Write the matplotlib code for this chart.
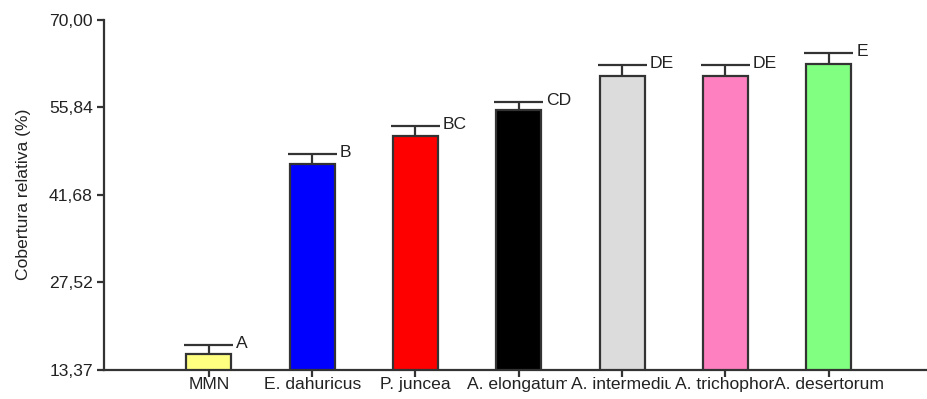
import matplotlib
matplotlib.use("Agg")
import matplotlib.pyplot as plt
from matplotlib.transforms import Bbox, blended_transform_factory, offset_copy
import numpy as np

plt.rcParams['font.family'] = ['Liberation Sans', 'DejaVu Sans']

categories = ["MMN", "E. dahuricus", "P. juncea", "A. elongatum",
              "A. intermedium", "A. trichophorum", "A. desertorum"]
values = [15.9, 46.6, 51.2, 55.3, 60.8, 60.8, 62.8]
errors = [1.5, 1.7, 1.6, 1.45, 1.8, 1.8, 1.8]
letters = ["A", "B", "BC", "CD", "DE", "DE", "E"]
colors = ["#FFFF80", "#0000FF", "#FF0000", "#000000", "#DCDCDC", "#FF80C0", "#80FF80"]
yticks = [13.37, 27.52, 41.68, 55.84, 70.00]
ytick_labels = ["13,37", "27,52", "41,68", "55,84", "70,00"]
ylabel = "Cobertura relativa (%)"

W, H = 927, 399
fig = plt.figure(figsize=(W / 100, H / 100), dpi=100)
ax = fig.add_axes([104 / W, 29 / H, 823 / W, 350.5 / H])

txtc = "#222222"
linec = "#333333"
fs = 12.6
x = np.arange(len(categories))
bw = 0.435
ax.bar(x, values, width=bw, color=colors, edgecolor=linec, linewidth=1.6, zorder=2)
ax.errorbar(x, values, yerr=[np.zeros(len(errors)), errors], fmt='none',
            ecolor=linec, elinewidth=1.6, capsize=0, zorder=3)
for xi, v, e, lab in zip(x, values, errors, letters):
    ax.plot([xi - bw / 2 - 0.02, xi + bw / 2 + 0.02], [v + e, v + e], color=linec, lw=1.6,
            solid_capstyle='butt', zorder=3)
    ax.annotate(lab, (xi + bw / 2 + 0.02, v + e), xytext=(2, 1), textcoords='offset points',
                ha='left', va='center', fontsize=fs, color=txtc)

ax.set_xlim(-1.014, 6.95)
ax.set_ylim(yticks[0], yticks[-1])
ax.set_yticks(yticks)
ax.set_yticklabels(ytick_labels, fontsize=fs, color=txtc)
ax.set_xticks(x)
ax.set_xticklabels([""] * len(x))
ax.tick_params(axis='both', direction='out', length=5, width=1.6, color=linec, pad=3)
ax.set_ylabel(ylabel, fontsize=fs, color=txtc, labelpad=13)

for s in ['top', 'right']:
    ax.spines[s].set_visible(False)
for s in ['left', 'bottom']:
    ax.spines[s].set_color(linec)
    ax.spines[s].set_linewidth(1.6)
    ax.spines[s].set_zorder(4)

# x category labels, truncated (clipped) to their category slot as in the source
fig.canvas.draw()
renderer = fig.canvas.get_renderer()
trans = blended_transform_factory(ax.transData, ax.transAxes)
ylab_pix = 29 - 6
n = len(categories)
for i, (xi, lab) in enumerate(zip(x, categories)):
    left = ax.transData.transform((xi - 0.5, 0))[0]
    right = ax.transData.transform((xi + 0.5, 0))[0]
    t = ax.text(xi, 0, lab, transform=offset_copy(trans, fig=fig, x=0, y=-7, units='dots'),
                ha='center', va='top', fontsize=fs, color=txtc, clip_on=False)
    wext = t.get_window_extent(renderer)
    if wext.width > 112:
        t.remove()
        t = ax.text(xi - 0.5, 0, lab,
                    transform=offset_copy(trans, fig=fig, x=1, y=-7, units='dots'),
                    ha='left', va='top', fontsize=fs, color=txtc)
    if i < n - 1:
        t.set_clip_box(Bbox([[0, 0], [right - 3, ylab_pix]]))
        t.set_clip_on(True)
    else:
        t.set_clip_on(False)

fig.savefig("out.png", dpi=100)
